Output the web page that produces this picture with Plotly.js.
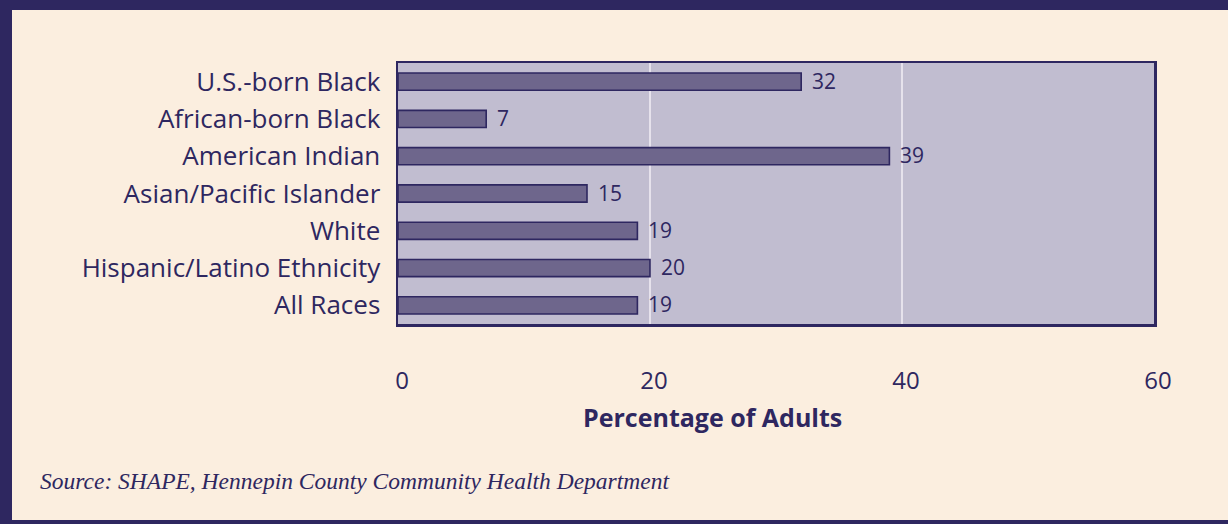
<!DOCTYPE html>
<html>
<head>
<meta charset="utf-8">
<script src="https://cdn.plot.ly/plotly-3.0.1.min.js"></script>
<style>
  html, body { margin: 0; padding: 0; background: #FBEEDF; }
  #frame {
    width: 1216px; height: 510px;
    border-top: 10px solid #2E2760;
    border-left: 12px solid #2E2760;
    border-bottom: 4px solid #2E2760;
    background: #FBEEDF;
  }
  #chart { width: 1216px; height: 510px; }
</style>
</head>
<body>
<div id="frame"><div id="chart"></div></div>
<script>
const categories = [
  "U.S.-born Black",
  "African-born Black",
  "American Indian",
  "Asian/Pacific Islander",
  "White",
  "Hispanic/Latino Ethnicity",
  "All Races"
];
const values = [32, 7, 39, 15, 19, 20, 19];
const tickValues = [0, 20, 40, 60];
const xTitle = "Percentage of Adults";
const sourceText = "Source: SHAPE, Hennepin County Community Health Department";

const ink = "#2E2760";
const sans = "Open Sans, sans-serif";

const trace = {
  type: "bar",
  orientation: "h",
  x: values,
  y: categories,
  marker: { color: "#6E668C", line: { color: ink, width: 1.6 } },
  width: 0.46,
  hoverinfo: "skip"
};

const valueLabels = values.map((v, i) => ({
  x: v, y: categories[i], xref: "x", yref: "y",
  text: String(v), showarrow: false,
  xanchor: "left", yanchor: "middle", xshift: 9, yshift: 1,
  font: { family: sans, size: 21, color: ink }
}));

const layout = {
  width: 1216, height: 510,
  margin: { l: 386, r: 74, t: 53, b: 196, pad: 0 },
  paper_bgcolor: "#FBEEDF",
  plot_bgcolor: "#C1BDD0",
  showlegend: false,
  font: { family: sans, color: ink },
  xaxis: {
    range: [0, 60],
    tickvals: tickValues,
    ticktext: tickValues.map(String),
    tickfont: { family: sans, size: 24, color: ink },
    ticks: "outside", ticklen: 34, tickcolor: "rgba(0,0,0,0)",
    ticklabelshift: 4,
    showgrid: true, gridcolor: "#E6E2EC", gridwidth: 2.5,
    zeroline: false,
    showline: true, linecolor: ink, linewidth: 2.5, mirror: true,
    fixedrange: true
  },
  yaxis: {
    autorange: "reversed",
    tickfont: { family: sans, size: 26, color: ink },
    ticks: "outside", ticklen: 10, tickcolor: "rgba(0,0,0,0)",
    showgrid: false, zeroline: false,
    showline: true, linecolor: ink, linewidth: 2.5, mirror: true,
    fixedrange: true
  },
  annotations: valueLabels.concat([
    {
      text: "<b>" + xTitle + "</b>", xref: "paper", yref: "paper",
      x: (712 - 398) / 756, y: -0.358, xanchor: "center", yanchor: "middle",
      showarrow: false,
      font: { family: sans, size: 25, color: ink }
    },
    {
      text: "<i>" + sourceText + "</i>", xref: "paper", yref: "paper",
      x: (38 - 398) / 756, y: -0.602, xanchor: "left", yanchor: "middle",
      showarrow: false,
      font: { family: "Liberation Serif, serif", size: 23.5, color: ink }
    }
  ])
};

Plotly.newPlot("chart", [trace], layout, { displayModeBar: false, staticPlot: true });
</script>
</body>
</html>
